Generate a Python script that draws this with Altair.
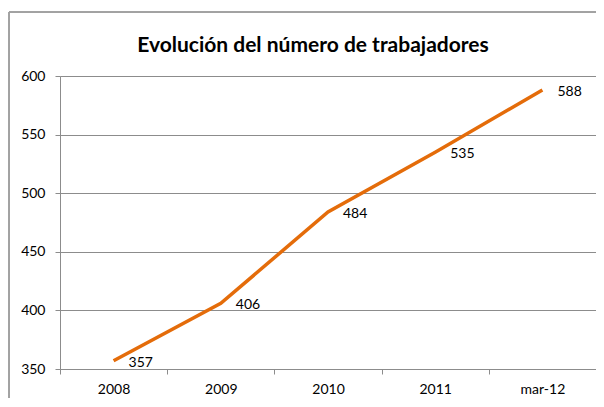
import altair as alt
import pandas as pd

categories = ["2008", "2009", "2010", "2011", "mar-12"]
values = [357, 406, 484, 535, 588]
labels = ["357", "406", "484", "535", "588"]

df = pd.DataFrame({"cat": categories, "val": values, "lab": labels})

W, H = 536, 293
FONT = "Lato"
GRID = "#8c8c8c"

x = alt.X("cat:N", sort=categories, title=None,
          scale=alt.Scale(type="band", paddingInner=0, paddingOuter=0),
          axis=alt.Axis(labelAngle=0, tickBand="extent", grid=False, domainColor=GRID,
                        tickColor=GRID, tickSize=5, labelFont=FONT, labelFontSize=14,
                        labelColor="#000000", labelPadding=8))
y = alt.Y("val:Q", title=None,
          scale=alt.Scale(domain=[350, 600], nice=False, zero=False),
          axis=alt.Axis(values=[350, 400, 450, 500, 550, 600], grid=True, gridColor=GRID,
                        domainColor=GRID, tickColor=GRID, tickSize=5, labelFont=FONT,
                        labelFontSize=14, labelColor="#000000", labelPadding=10))

frame = alt.Chart(df).mark_rect(fill=None, stroke="#a0a0a0", strokeWidth=1).encode(
    x=alt.value(-51), y=alt.value(-64), x2=alt.value(W + 40), y2=alt.value(H + 60)
)

line = alt.Chart(df).mark_line(color="#E46C0A", strokeWidth=3.5).encode(
    x=alt.X("cat:N", sort=categories, bandPosition=0.5), y=alt.Y("val:Q")
)

text = alt.Chart(df).mark_text(align="left", baseline="middle", dx=15, dy=2,
                               font=FONT, fontSize=14, color="#000000").encode(
    x=alt.X("cat:N", sort=categories, bandPosition=0.5), y=alt.Y("val:Q"), text="lab:N"
)

base = alt.Chart(df).mark_point(opacity=0).encode(x=x, y=y)

chart = alt.layer(frame, base, line, text).properties(
    width=W, height=H,
    title=alt.Title("Evolución del número de trabajadores", font=FONT, fontSize=21,
                    fontWeight="bold", color="#000000", anchor="middle", frame="group",
                    baseline="alphabetic", offset=-61, dx=-15),
    padding={"left": 52, "top": 68, "right": 0, "bottom": 29},
    autosize=alt.AutoSizeParams(type="none"),
).configure_view(stroke=None).configure(background="white")

chart.save("out.html", embed_options={"renderer": "svg", "actions": False})
